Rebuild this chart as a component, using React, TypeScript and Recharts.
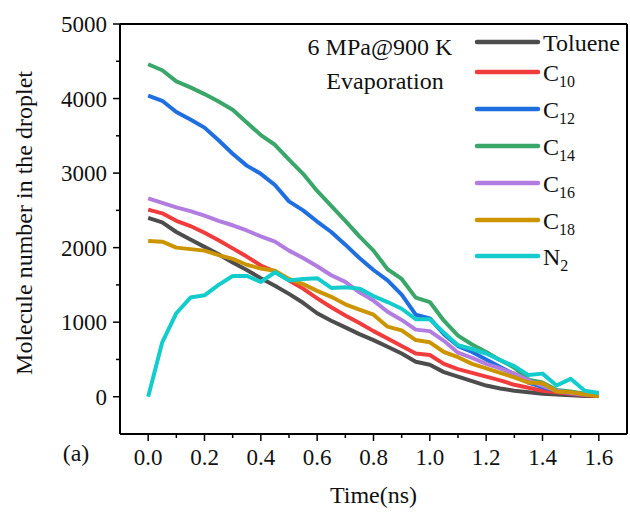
import { LineChart, Line, XAxis, YAxis, ReferenceLine } from "recharts";

const time = [
  0, 0.05, 0.1, 0.15, 0.2, 0.25, 0.3, 0.35, 0.4, 0.45, 0.5, 0.55, 0.6, 0.65, 0.7, 0.75, 0.8,
  0.85, 0.9, 0.95, 1.0, 1.05, 1.1, 1.15, 1.2, 1.25, 1.3, 1.35, 1.4, 1.45, 1.5, 1.55, 1.6,
];
const toluene = [2400, 2340, 2210, 2110, 2010, 1910, 1800, 1700, 1590, 1490, 1380, 1260, 1120, 1020, 930, 840, 760, 670, 580, 470, 430, 330, 270, 210, 150, 110, 80, 60, 40, 30, 20, 10, 10];
const c10 = [2510, 2460, 2360, 2290, 2200, 2100, 1990, 1880, 1760, 1680, 1560, 1450, 1320, 1200, 1090, 990, 880, 780, 680, 580, 560, 440, 370, 320, 270, 220, 160, 120, 80, 60, 40, 20, 10];
const c12 = [4040, 3970, 3820, 3720, 3610, 3440, 3260, 3100, 2990, 2840, 2620, 2500, 2350, 2210, 2040, 1860, 1700, 1560, 1370, 1100, 1050, 840, 680, 600, 500, 400, 300, 190, 130, 80, 50, 30, 20];
const c14 = [4460, 4380, 4230, 4150, 4060, 3960, 3850, 3680, 3510, 3380, 3180, 2990, 2760, 2560, 2360, 2150, 1960, 1710, 1580, 1330, 1270, 1020, 820, 700, 600, 490, 390, 230, 190, 90, 70, 40, 20];
const c16 = [2660, 2600, 2540, 2490, 2430, 2360, 2300, 2230, 2150, 2080, 1960, 1860, 1750, 1630, 1540, 1400, 1290, 1140, 1030, 900, 880, 750, 590, 520, 440, 380, 310, 220, 150, 80, 50, 30, 20];
const c18 = [2090, 2080, 2000, 1980, 1960, 1900, 1850, 1770, 1720, 1690, 1580, 1510, 1420, 1340, 1240, 1170, 1100, 940, 890, 760, 730, 600, 530, 440, 380, 320, 260, 190, 180, 70, 60, 30, 10];
const n2 = [0, 730, 1120, 1330, 1360, 1500, 1620, 1620, 1540, 1670, 1560, 1580, 1590, 1460, 1470, 1450, 1350, 1270, 1180, 1040, 1040, 860, 690, 640, 580, 490, 410, 290, 310, 150, 240, 80, 50];

const seriesKeys = ["toluene", "c10", "c12", "c14", "c16", "c18", "n2"];
const seriesNames = ["Toluene", "C10", "C12", "C14", "C16", "C18", "N2"];
const seriesColors = ["#4d4d4d", "#f03c3c", "#1f6fe0", "#3aa66a", "#b27de0", "#cc9500", "#14cccc"];

const xTicks = [0, 0.1, 0.2, 0.3, 0.4, 0.5, 0.6, 0.7, 0.8, 0.9, 1.0, 1.1, 1.2, 1.3, 1.4, 1.5, 1.6];
const yTicks = [0, 500, 1000, 1500, 2000, 2500, 3000, 3500, 4000, 4500, 5000];

const data = time.map((t, i) => ({
  t,
  toluene: toluene[i],
  c10: c10[i],
  c12: c12[i],
  c14: c14[i],
  c16: c16[i],
  c18: c18[i],
  n2: n2[i],
}));

const FONT = "'Liberation Serif', 'Times New Roman', serif";
const INK = "#111";

const XTick = (props: any) => {
  const { x, y, payload } = props;
  const major = Math.round(payload.value * 10) % 2 === 0;
  return (
    <g>
      <line x1={x} x2={x} y1={y} y2={y + (major ? 7 : 4)} stroke="#000" strokeWidth={1.5} />
      {major && (
        <text x={x} y={y + 31} textAnchor="middle" fontFamily={FONT} fontSize={23} fill={INK}>
          {payload.value.toFixed(1)}
        </text>
      )}
    </g>
  );
};

const YTick = (props: any) => {
  const { x, y, payload } = props;
  const major = payload.value % 1000 === 0;
  return (
    <g>
      <line x1={x - (major ? 7 : 4)} x2={x} y1={y} y2={y} stroke="#000" strokeWidth={1.5} />
      {major && (
        <text x={x - 13} y={y + 8} textAnchor="end" fontFamily={FONT} fontSize={23} fill={INK}>
          {payload.value}
        </text>
      )}
    </g>
  );
};

// legend row centres (page px)
const legendRows = [42, 72, 109, 146, 183, 220, 256];

function LegendBox() {
  return (
    <g>
      {seriesKeys.map((k, i) => {
        const label = seriesNames[i];
        const base = label.replace(/\d+$/, "");
        const sub = label.slice(base.length);
        const cy = legendRows[i];
        return (
          <g key={k}>
            <line x1={477} x2={538} y1={cy} y2={cy} stroke={seriesColors[i]} strokeWidth={4.5} strokeLinecap="round" />
            <text x={543} y={cy + 8.5} fontFamily={FONT} fontSize={24} fill={INK}>
              {base}
              {sub && (
                <tspan fontSize={16} dy={6}>
                  {sub}
                </tspan>
              )}
            </text>
          </g>
        );
      })}
    </g>
  );
}

export default function App() {
  return (
    <div style={{ position: "absolute", left: 0, top: 0, width: 630, height: 512, background: "#fff" }}>
      <LineChart width={630} height={512} data={data} margin={{ top: 24, right: 3, left: 0, bottom: 0 }}>
        <XAxis
          type="number"
          dataKey="t"
          domain={[-0.1, 1.7]}
          ticks={xTicks}
          interval={0}
          height={78}
          tickSize={0}
          tickMargin={0}
          tickLine={false}
          tick={<XTick />}
          axisLine={{ stroke: "#000", strokeWidth: 2 }}
          label={(p: any) => {
            const vb = p.viewBox;
            return (
              <text x={vb.x + vb.width / 2} y={vb.y + 69} textAnchor="middle" fontFamily={FONT} fontSize={24} fill={INK}>
                Time(ns)
              </text>
            );
          }}
        />
        <YAxis
          type="number"
          domain={[-500, 5000]}
          ticks={yTicks}
          interval={0}
          width={120}
          tickSize={0}
          tickMargin={0}
          tickLine={false}
          tick={<YTick />}
          axisLine={{ stroke: "#000", strokeWidth: 2 }}
          label={(p: any) => {
            const vb = p.viewBox;
            const cx = vb.x + 24;
            const cy = vb.y + vb.height / 2 - 6;
            return (
              <text
                x={cx}
                y={cy}
                transform={`rotate(-90, ${cx}, ${cy})`}
                textAnchor="middle"
                dominantBaseline="central"
                fontFamily={FONT}
                fontSize={24}
                fill={INK}
              >
                Molecule number in the droplet
              </text>
            );
          }}
        />
        <ReferenceLine y={5000} stroke="#000" strokeWidth={2} />
        <ReferenceLine x={1.7} stroke="#000" strokeWidth={2} />
        {seriesKeys.map((k, i) => (
          <Line
            key={k}
            type="linear"
            dataKey={k}
            name={seriesNames[i]}
            stroke={seriesColors[i]}
            strokeWidth={4}
            strokeLinejoin="round"
            dot={false}
            isAnimationActive={false}
          />
        ))}
      </LineChart>
      <svg
        width={630}
        height={512}
        style={{ position: "absolute", left: 0, top: 0, pointerEvents: "none" }}
      >
        <LegendBox />
        <text x={380} y={55} textAnchor="middle" fontFamily={FONT} fontSize={24} fill={INK}>
          6 MPa@900 K
        </text>
        <text x={385} y={89} textAnchor="middle" fontFamily={FONT} fontSize={24} fill={INK}>
          Evaporation
        </text>
        <text x={76} y={461} textAnchor="middle" fontFamily={FONT} fontSize={24} fill={INK}>
          (a)
        </text>
      </svg>
    </div>
  );
}
